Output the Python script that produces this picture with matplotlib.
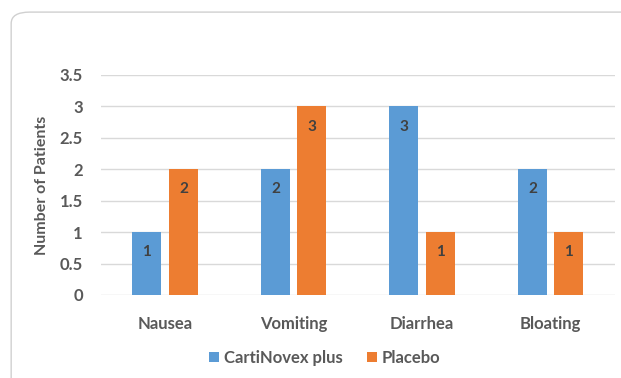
import matplotlib.pyplot as plt
import numpy as np
from matplotlib.patches import FancyBboxPatch

symptoms = ['Nausea', 'Vomiting', 'Diarrhea', 'Bloating']
cartinovex = [1, 2, 3, 2]
placebo = [2, 3, 1, 1]
series_names = ['CartiNovex plus', 'Placebo']
yticks = [0, 0.5, 1, 1.5, 2, 2.5, 3, 3.5]

BLUE = '#5B9BD5'
ORANGE = '#ED7D31'
TEXT = '#595959'

plt.rcParams['font.family'] = ['Lato', 'DejaVu Sans']

fig = plt.figure(figsize=(6.21, 3.78), dpi=100)

# chart frame with rounded corner, running off the right and bottom edges
frame = FancyBboxPatch((0.018, -0.1), 1.2, 1.068, boxstyle='round,pad=0,rounding_size=0.03',
                       transform=fig.transFigure, facecolor='white', edgecolor='#D0D0D0',
                       linewidth=1.0, zorder=-5)
fig.patches.append(frame)

ax = fig.add_axes([0.1626, 0.2196, 0.8277, 0.582])
ax.set_facecolor('none')

x = np.arange(len(symptoms))
w = 0.226
off = 0.142
b1 = ax.bar(x - off, cartinovex, w, color=BLUE, label=series_names[0], zorder=3)
b2 = ax.bar(x + off, placebo, w, color=ORANGE, label=series_names[1], zorder=3)

for bars, vals in [(b1, cartinovex), (b2, placebo)]:
    for rect, v in zip(bars, vals):
        ax.text(rect.get_x() + rect.get_width() / 2, v - 0.32, str(v),
                ha='center', va='center', fontsize=11, fontweight='bold',
                color='#404040', zorder=4)

ax.set_xlim(-0.5, 3.5)
ax.set_ylim(0, 3.5)
ax.set_yticks(yticks)
ax.set_yticklabels([f'{t:g}' for t in yticks])
ax.set_xticks(x)
ax.set_xticklabels(symptoms)
ax.yaxis.grid(True, color='#D9D9D9', linewidth=1.0, zorder=0)
ax.set_axisbelow(True)
for s in ax.spines.values():
    s.set_visible(False)
ax.tick_params(length=0, labelsize=12, colors=TEXT)
ax.tick_params(axis='x', pad=15)
ax.tick_params(axis='y', pad=13)
for lab in ax.get_xticklabels() + ax.get_yticklabels():
    lab.set_fontweight('bold')

ax.set_ylabel('Number of Patients', fontsize=11.5, fontweight='bold', color=TEXT, labelpad=8)

leg = fig.legend(handles=[b1, b2], labels=series_names, loc='center',
                 bbox_to_anchor=(0.523, 0.053), ncol=2, frameon=False,
                 handlelength=0.6, handleheight=0.6, handletextpad=0.3,
                 columnspacing=1.4, prop={'size': 12, 'weight': 'bold'})
for t in leg.get_texts():
    t.set_color(TEXT)

fig.savefig('out.png', dpi=100)
